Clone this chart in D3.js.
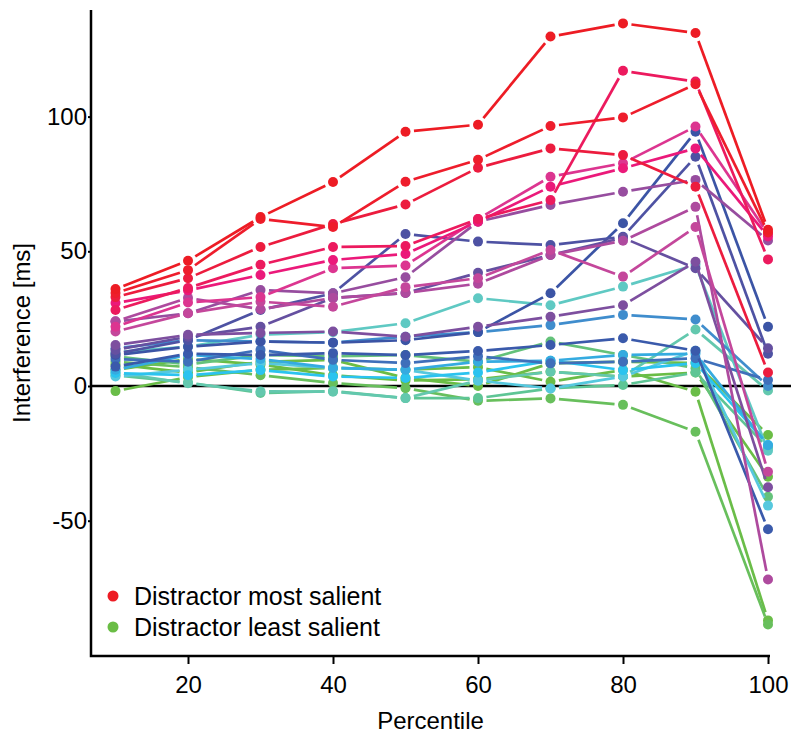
<!DOCTYPE html>
<html>
<head>
<meta charset="utf-8">
<script src="https://cdn.jsdelivr.net/npm/d3@7"></script>
<style>
  body { margin: 0; background: #fff; }
  text { font-family: Arial, "Liberation Sans", sans-serif; }
</style>
</head>
<body>
<svg id="chart" width="791" height="738"></svg>
<script>
// percentiles on the x axis
var percentiles = [10, 20, 30, 40, 50, 60, 70, 80, 90, 100];

// one colour per series, from most salient (red) to least salient (green)
var seriesColors = [
  "#ED1C24", "#EE1D2C", "#EC1C3E", "#EC1A5E", "#EB197A", "#DC3590",
  "#C4479B", "#AE4A9E", "#974D9F", "#7D4F9F", "#6550A0", "#4E52A3",
  "#3B54A5", "#3A5AAB", "#3F6FBA", "#3F8DCD", "#35ABE0", "#2BC3EF",
  "#56C8DE", "#5FC9C3", "#63C8AE", "#5EC595", "#64C27A", "#68BF5C",
  "#6ABD48", "#6BBD45", "#6ABD45"
];

// interference [ms] per series, one value per percentile
var interference = [
  [36, 46.5, 62.7, 75.7, 94.4, 97, 129.7, 134.6, 131, 58],
  [34.5, 43, 62, 59, 75.8, 84, 96.5, 99.7, 112, 57],
  [33, 40, 51.6, 60.1, 67.4, 81, 88.2, 85.7, 74, 5],
  [28.2, 36.4, 45, 51.6, 52, 62, 69, 117, 113, 47],
  [30.8, 35.5, 41.2, 46.8, 49, 61, 74, 80.8, 88.2, 55.5],
  [22, 31, 33, 43.7, 44.7, 62, 77.7, 82.7, 96.3, 56.5],
  [20.2, 27, 31.3, 29.4, 36.7, 40, 50.5, 40.6, 59, -31.8],
  [24, 32.7, 28.5, 32.7, 34.5, 38, 48.6, 53.9, 66.5, -71.8],
  [23.9, 27, 35.6, 34.4, 40.4, 61, 67.2, 72.1, 76.5, 54],
  [15.2, 19, 19.7, 20.2, 18.3, 22, 25.7, 30, 46.1, -37.6],
  [13.4, 18.3, 22, 32.7, 34.5, 42, 48.6, 55, 43.7, 14],
  [12, 17, 28.2, 34.4, 56.4, 53.6, 52.3, 55.4, 85.1, 12],
  [11.5, 14.6, 16.5, 16.1, 17, 20, 34.4, 60.4, 94.4, 22],
  [7.2, 12, 11.5, 12.2, 11.5, 13, 15.2, 17.7, 13.1, -53.2],
  [10, 9, 13.4, 9.7, 8.5, 11, 8.4, 9, 10.3, 2.2],
  [14, 17, 16.5, 16.1, 18.3, 20, 22.6, 26.4, 24.7, 0],
  [6, 11.5, 10, 6.7, 6, 9, 9.4, 11.5, 12, -22],
  [4.8, 4, 5.9, 3.5, 3, 5, 9.4, 5.9, 8.5, -21.9],
  [3.5, 6, 8.5, 6.7, 6, 2, -0.9, 3.5, 13.1, -44.4],
  [12.5, 14.6, 19, 20, 23.3, 32.6, 30, 36.9, 45, -24],
  [5, 1, -2, -2.1, -4.5, 2, 5.3, 3.5, 21, -1.7],
  [4, 1.3, -2.6, -1.9, -4.5, -4.5, -0.9, 0.4, 5, -23],
  [11, 8, 11.5, 11, 11.5, 9, 16.5, 11.5, 6.6, -41.1],
  [9, 7, 4, 1.1, -0.8, -5.5, -4.6, -7, -17, -88.5],
  [-1.9, 3.3, 6, 6.7, 6, 7, 1.6, 5.9, -2.1, -87],
  [8, 5, 9, 9.7, 3, 0, 8.4, 9, 8.5, -18.2],
  [6, 10, 8, 4, 2, 2.5, 5.3, 3.5, 5, -33.7]
];

var xTicks = [20, 40, 60, 80, 100];
var yTicks = [-50, 0, 50, 100];
var legendLabels = ["Distractor most salient", "Distractor least salient"];
var legendColors = ["#ED1C24", "#6ABD45"];

var svg = d3.select("#chart");

// plot region edges
var plotLeft = 91, plotRight = 770, plotTop = 10, plotBottom = 656;

var x = d3.scaleLinear().domain([20, 100]).range([188, 768]);
var y = d3.scaleLinear().domain([0, 100]).range([386, 116.6]);

// zero line across the whole width
svg.append("line")
  .attr("x1", plotLeft).attr("x2", 791)
  .attr("y1", y(0)).attr("y2", y(0))
  .attr("stroke", "#000").attr("stroke-width", 2.5);

// lines with a gap round every point (like R type = "b")
var gap = 8.5;
var plot = svg.append("g").attr("class", "series");

d3.range(interference.length).reverse().forEach(function(s) {
  var vals = interference[s],
      col = seriesColors[s],
      g = plot.append("g");

  for (var i = 0; i < vals.length - 1; i++) {
    var x1 = x(percentiles[i]), y1 = y(vals[i]),
        x2 = x(percentiles[i + 1]), y2 = y(vals[i + 1]);
    var dx = x2 - x1, dy = y2 - y1, len = Math.sqrt(dx * dx + dy * dy);
    if (len <= 2 * gap) continue;
    var ux = dx / len, uy = dy / len;
    g.append("line")
      .attr("x1", x1 + ux * gap).attr("y1", y1 + uy * gap)
      .attr("x2", x2 - ux * gap).attr("y2", y2 - uy * gap)
      .attr("stroke", col)
      .attr("stroke-width", 2.7);
  }

  g.selectAll("circle")
    .data(vals)
    .enter().append("circle")
    .attr("cx", function(d, i) { return x(percentiles[i]); })
    .attr("cy", function(d) { return y(d); })
    .attr("r", 5)
    .attr("fill", col);
});

// axes
var fmt = function(d) { return String(d); };

var xAxis = svg.append("g")
  .attr("transform", "translate(0," + plotBottom + ")")
  .call(d3.axisBottom(x).tickValues(xTicks).tickSize(8).tickPadding(12).tickFormat(fmt));

var yAxis = svg.append("g")
  .attr("transform", "translate(" + plotLeft + ",0)")
  .call(d3.axisLeft(y).tickValues(yTicks).tickSize(3).tickPadding(1).tickFormat(fmt));

[xAxis, yAxis].forEach(function(a) {
  a.select(".domain").remove();
  a.selectAll(".tick line").attr("stroke", "#000").attr("stroke-width", 2);
  a.selectAll(".tick text").attr("fill", "#000").style("font-size", "24px");
});

// L-shaped box
svg.append("path")
  .attr("d", "M" + plotLeft + "," + plotTop + "V" + plotBottom + "H" + plotRight)
  .attr("fill", "none")
  .attr("stroke", "#000")
  .attr("stroke-width", 2.5);

// axis titles
svg.append("text")
  .attr("x", (plotLeft + plotRight) / 2).attr("y", 729)
  .attr("text-anchor", "middle")
  .style("font-size", "24px")
  .text("Percentile");

svg.append("text")
  .attr("transform", "translate(30," + (plotTop + plotBottom) / 2 + ") rotate(-90)")
  .attr("text-anchor", "middle")
  .style("font-size", "24px")
  .text("Interference [ms]");

// legend
var legend = svg.append("g").attr("class", "legend");
legendLabels.forEach(function(lab, i) {
  var ly = 596 + i * 31;
  legend.append("circle")
    .attr("cx", 113).attr("cy", ly).attr("r", 5.5)
    .attr("fill", legendColors[i]);
  legend.append("text")
    .attr("x", 134).attr("y", ly + 9)
    .style("font-size", "25px")
    .text(lab);
});
</script>
</body>
</html>
